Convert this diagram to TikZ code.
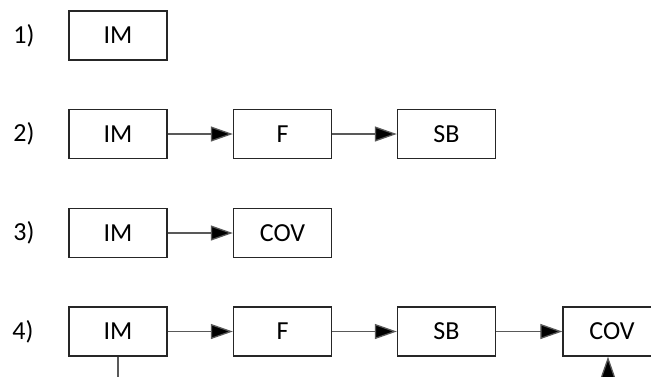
\documentclass[tikz,border=0pt]{standalone}
\usepackage{fontspec}
\setmainfont{Carlito}
\usetikzlibrary{arrows.meta}
\tikzset{
  box/.style={draw=black!85, line width=1.4pt, minimum width=98pt, minimum height=49pt, inner sep=0pt},
  edge/.style={draw=black!65, line width=1.3pt, -{Triangle[length=22pt,width=15pt,fill=black]}},
  num/.style={inner sep=0pt}
}
\begin{document}
\begin{tikzpicture}[x=1pt,y=-1pt,font=\fontsize{26}{30}\selectfont]
    \useasboundingbox (0,0) rectangle (651,376);
    \clip (0,0) rectangle (651,376);
    % row labels
    \node[num] (n1) at (24,35.5) {1)};
    \node[num] (n2) at (24,134) {2)};
    \node[num] (n3) at (24,233) {3)};
    \node[num] (n4) at (23,331.5) {4)};
    % nodes
    \node[box] (im1) at (118,35.5) {IM};
    \node[box] (im2) at (118,134) {IM};
    \node[box] (f2) at (282.5,134) {F};
    \node[box] (sb2) at (446.5,134) {SB};
    \node[box] (im3) at (118,233) {IM};
    \node[box] (cov3) at (282.5,233) {COV};
    \node[box] (im4) at (118,331.5) {IM};
    \node[box] (f4) at (282.5,331.5) {F};
    \node[box] (sb4) at (446.5,331.5) {SB};
    \node[box] (cov4) at (612,331.5) {COV};
    % edges
    \draw[edge] (im2) -- (f2);
    \draw[edge] (f2) -- (sb2);
    \draw[edge] (im3) -- (cov3);
    \draw[edge] (im4) -- (f4);
    \draw[edge] (f4) -- (sb4);
    \draw[edge] (sb4) -- (cov4);
    \draw[edge] (im4.south) -- ++(0,40) -| ([xshift=-4pt]cov4.south);
\end{tikzpicture}
\end{document}
